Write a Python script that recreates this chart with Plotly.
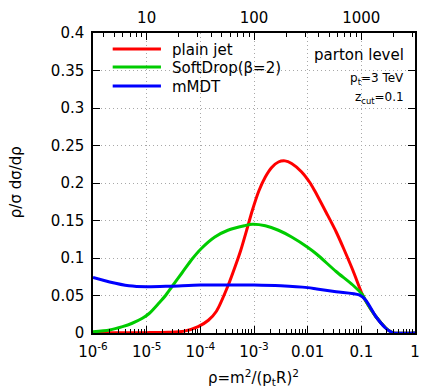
import plotly.graph_objects as go

# ---- data ----
rho_plain = [1e-6, 1e-5, 10**-4.6, 10**-4.3, 10**-4.04, 10**-3.85, 10**-3.70, 10**-3.49,
             10**-3.30, 10**-3.248, 10**-3.125, 10**-3.033, 10**-2.912, 10**-2.789,
             10**-2.666, 10**-2.545, 10**-2.422, 10**-2.299, 10**-2.116, 10**-1.963,
             10**-1.872, 10**-1.65, 10**-1.47, 10**-1.32, 10**-1.16, 10**-0.98,
             10**-0.92, 10**-0.73, 10**-0.55, 10**-0.46, 10**-0.40, 1.0]
val_plain = [0.0002, 0.0005, 0.001, 0.0025, 0.0085, 0.017, 0.029, 0.062,
             0.099, 0.110, 0.140, 0.163, 0.189, 0.208,
             0.221, 0.228, 0.2295, 0.226, 0.215, 0.201,
             0.190, 0.160, 0.135, 0.111, 0.084, 0.051,
             0.043, 0.022, 0.007, 0.002, 0.0, 0.0]

rho_sd = [1e-6, 10**-5.69, 10**-5.45, 10**-5.27, 10**-5.08, 10**-4.954, 10**-4.771,
          10**-4.648, 10**-4.527, 10**-4.343, 10**-4.16, 10**-3.976, 10**-3.73,
          10**-3.486, 10**-3.18, 10**-3.033, 10**-2.789, 10**-2.545, 10**-2.299,
          10**-1.995, 10**-1.83, 10**-1.47, 10**-1.16, 10**-0.98,
          10**-0.92, 10**-0.73, 10**-0.55, 10**-0.46, 10**-0.40, 1.0]
val_sd = [0.0015, 0.004, 0.0085, 0.013, 0.0196, 0.026, 0.040,
          0.050, 0.062, 0.080, 0.098, 0.113, 0.128,
          0.137, 0.143, 0.145, 0.143, 0.137, 0.128,
          0.114, 0.105, 0.082, 0.064, 0.051,
          0.043, 0.022, 0.007, 0.002, 0.0, 0.0]

rho_mmdt = [1e-6, 10**-5.69, 10**-5.33, 1e-5, 10**-4.55, 1e-4, 10**-3.5, 1e-3, 10**-2.5,
            1e-2, 10**-1.83, 10**-1.47, 10**-1.04, 10**-0.92, 10**-0.73, 10**-0.55,
            10**-0.46, 10**-0.40, 1.0]
val_mmdt = [0.074, 0.068, 0.063, 0.0617, 0.0625, 0.064, 0.064, 0.064, 0.063,
            0.0605, 0.0587, 0.055, 0.0507, 0.044, 0.022, 0.0067,
            0.002, 0.0, 0.0]

series_names = ["plain jet", "SoftDrop(β=2)", "mMDT"]
series_colors = ["#ff0000", "#00cc00", "#0000ff"]

x_tickvals = [1e-6, 1e-5, 1e-4, 1e-3, 1e-2, 1e-1, 1]
x_ticktext = ["10<sup>-6</sup>", "10<sup>-5</sup>", "10<sup>-4</sup>", "10<sup>-3</sup>",
              "0.01", "0.1", "1"]
y_tickvals = [0, 0.05, 0.1, 0.15, 0.2, 0.25, 0.3, 0.35, 0.4]
y_ticktext = ["0", "0.05", "0.1", "0.15", "0.2", "0.25", "0.3", "0.35", "0.4"]
top_tickvals = [10, 100, 1000]
top_ticktext = ["10", "100", "1000"]

FONT = "DejaVu Sans"
W, H = 426, 391
L, R, T, B = 93, 6, 33, 58
PW, PH = W - L - R, H - T - B

def px(x):
    return (x - L) / PW

def py(y):
    return (H - B - y) / PH

GRID = "#a8a8a8"
GDASH = "1px,3px"

fig = go.Figure()
for xs, ys, c, n in [(rho_plain, val_plain, series_colors[0], series_names[0]),
                     (rho_sd, val_sd, series_colors[1], series_names[1]),
                     (rho_mmdt, val_mmdt, series_colors[2], series_names[2])]:
    fig.add_trace(go.Scatter(x=xs, y=ys, mode="lines", name=n,
                             line=dict(color=c, width=3, shape="spline", smoothing=0.8),
                             showlegend=False))
# dummy trace for top axis
fig.add_trace(go.Scatter(x=[], y=[], xaxis="x2", showlegend=False))

minor_bottom = [m * 10.0**k for k in range(-6, 0) for m in range(2, 10)]
minor_top = [m * 10.0**k for k in range(0, 4) for m in range(2, 10)
             if 3.16 < m * 10.0**k < 3162]

fig.update_layout(
    width=W, height=H,
    margin=dict(l=L, r=R, t=T, b=B),
    paper_bgcolor="white", plot_bgcolor="white",
    font=dict(family=FONT, size=15, color="black"),
    xaxis=dict(type="log", range=[-6, 0], tickmode="array", tickvals=x_tickvals,
               ticktext=x_ticktext, ticks="inside", ticklen=7, tickwidth=1,
               tickcolor="black", showline=True, linecolor="black", linewidth=1.5,
               showgrid=True, gridcolor=GRID, griddash=GDASH, gridwidth=1,
               zeroline=False, tickfont=dict(size=15), ticklabelstandoff=4,
               minor=dict(tickmode="array", tickvals=minor_bottom, ticks="inside",
                          ticklen=4, tickcolor="black", showgrid=False)),
    xaxis2=dict(type="log", range=[0.5, 3.5], overlaying="x", side="top", anchor="y",
                tickmode="array", tickvals=top_tickvals, ticktext=top_ticktext,
                ticks="inside", ticklen=7, tickcolor="black", showline=True,
                linecolor="black", linewidth=1.5, showgrid=False, zeroline=False,
                tickfont=dict(size=15), ticklabelstandoff=2,
                minor=dict(tickmode="array", tickvals=minor_top, ticks="inside",
                           ticklen=4, tickcolor="black", showgrid=False)),
    yaxis=dict(range=[0, 0.4], tickmode="array", tickvals=y_tickvals, ticktext=y_ticktext,
               ticks="inside", ticklen=7, tickcolor="black", showline=True,
               linecolor="black", linewidth=1.5, mirror="ticks",
               showgrid=True, gridcolor=GRID, griddash=GDASH, gridwidth=1,
               zeroline=False, tickfont=dict(size=15), ticklabelstandoff=4),
)

# legend (manual, gnuplot style)
leg_y = [49, 67, 86]
for yy, c, n in zip(leg_y, series_colors, series_names):
    fig.add_shape(type="line", xref="paper", yref="paper",
                  x0=px(113), x1=px(162), y0=py(yy), y1=py(yy),
                  line=dict(color=c, width=3))
    fig.add_annotation(xref="paper", yref="paper", x=px(171), y=py(yy + 1),
                       text=n, showarrow=False, xanchor="left", yanchor="middle",
                       font=dict(size=15))

fig.add_annotation(xref="paper", yref="paper", x=px(411), y=py(55), text="parton level",
                   showarrow=False, xanchor="right", yanchor="middle", font=dict(size=15))
fig.add_annotation(xref="paper", yref="paper", x=px(411), y=py(79),
                   text="p<sub>t</sub>=3 TeV", showarrow=False, xanchor="right",
                   yanchor="middle", font=dict(size=12))
fig.add_annotation(xref="paper", yref="paper", x=px(411), y=py(98),
                   text="z<sub>cut</sub>=0.1", showarrow=False, xanchor="right",
                   yanchor="middle", font=dict(size=12))

fig.add_annotation(xref="paper", yref="paper", x=px(15), y=py(182),
                   text="ρ/σ dσ/dρ", textangle=-90, showarrow=False,
                   xanchor="center", yanchor="middle", font=dict(size=15))
fig.add_annotation(xref="paper", yref="paper", x=px(256), y=py(377),
                   text="ρ=m<sup>2</sup>/(p<sub>t</sub>R)<sup>2</sup>", showarrow=False,
                   xanchor="center", yanchor="middle", font=dict(size=15))

fig.write_html("out.html")
